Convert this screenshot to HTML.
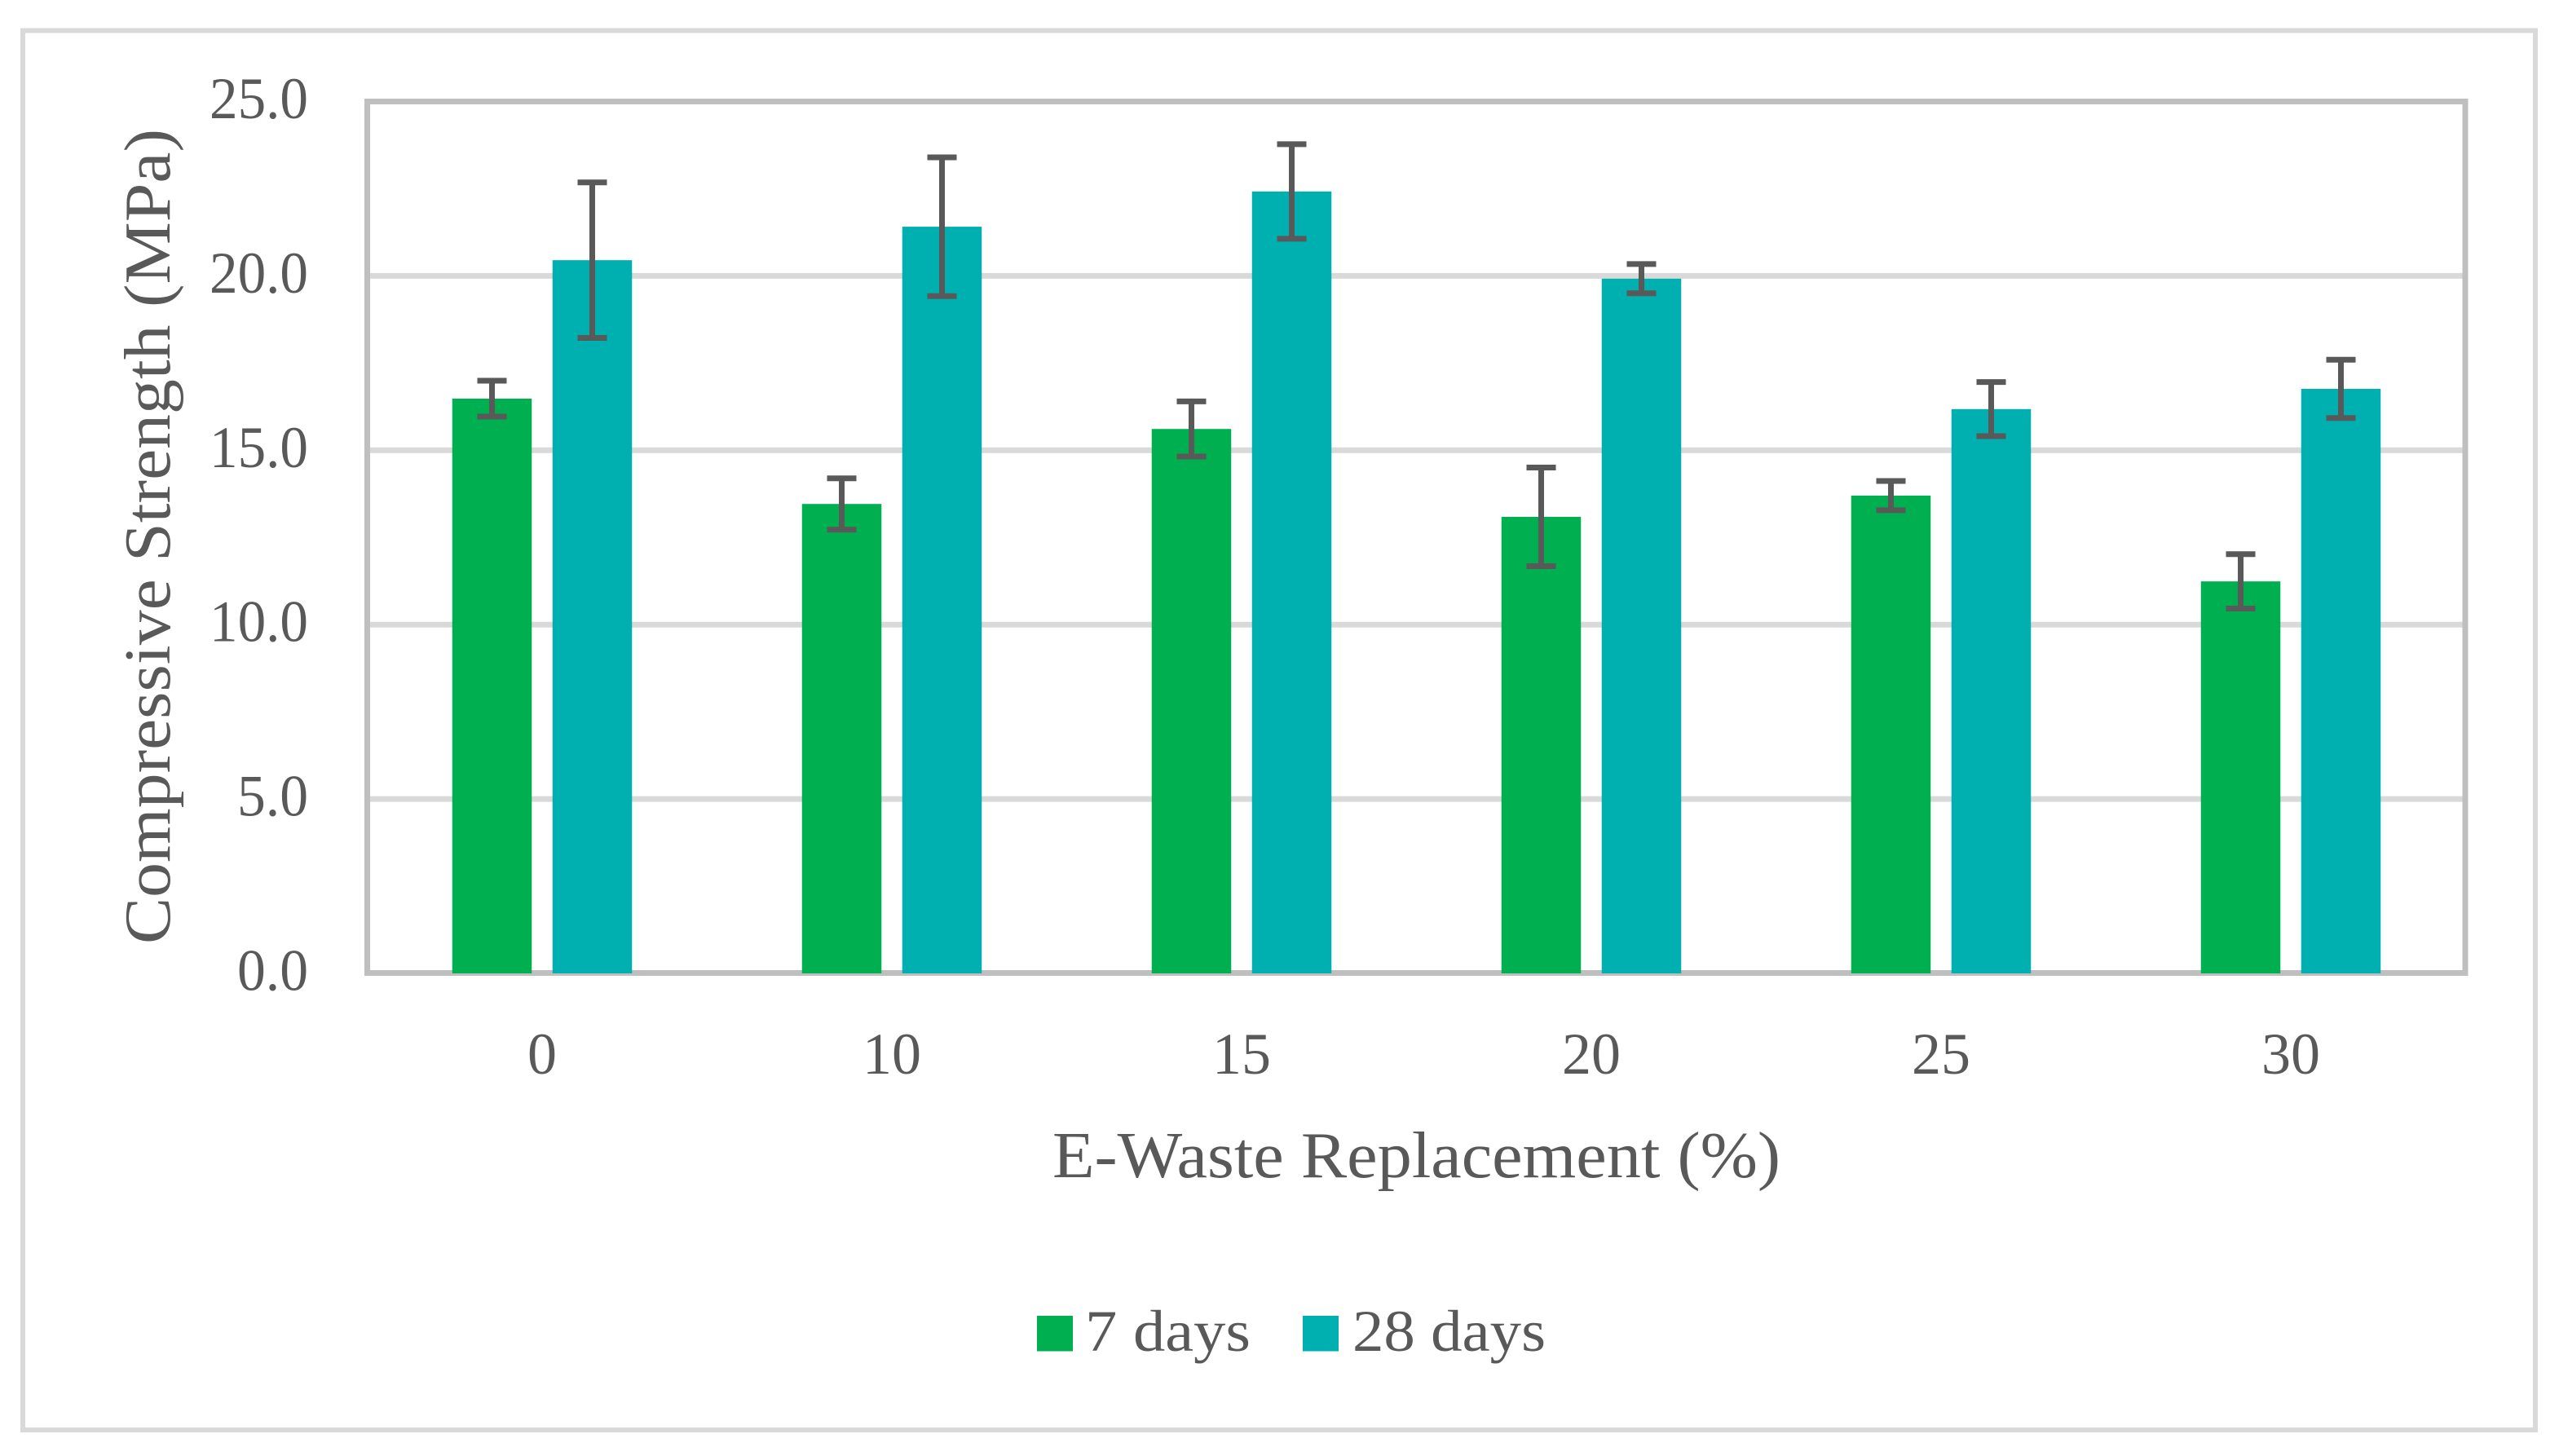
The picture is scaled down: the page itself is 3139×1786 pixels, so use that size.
<!DOCTYPE html>
<html lang="en">
<head>
<meta charset="utf-8">
<title>Compressive Strength vs E-Waste Replacement</title>
<style>
html,body{margin:0;padding:0;background:#fff;}
svg{display:block;}
text{font-family:"Liberation Serif",serif;fill:#595959;}
</style>
</head>
<body>
<svg id="chart" xmlns="http://www.w3.org/2000/svg" width="3139" height="1786" viewBox="0 0 3139 1786">
  <rect x="0" y="0" width="3139" height="1786" fill="#ffffff"/>
  <rect x="28" y="37.5" width="3082" height="1716.5" fill="#ffffff" stroke="#d9d9d9" stroke-width="6"/>
  <g id="grid"></g>
  <rect x="450.5" y="124.5" width="2573.5" height="1069" fill="none" stroke="#bfbfbf" stroke-width="7"/>
  <g id="bars"></g>
  <g id="errors"></g>
  <g id="yticks"></g>
  <g id="xticks"></g>
  <text transform="translate(208,1158) rotate(-90)" font-size="80" textLength="1000" lengthAdjust="spacingAndGlyphs">Compressive Strength (MPa)</text>
  <text x="1291" y="1444" font-size="80" textLength="893" lengthAdjust="spacingAndGlyphs">E-Waste Replacement (%)</text>
  <g>
    <rect x="1272" y="1614" width="44" height="43.5" fill="#00b050"/>
    <text x="1331" y="1657" font-size="72" textLength="203" lengthAdjust="spacingAndGlyphs">7 days</text>
    <rect x="1598" y="1614" width="44" height="43.5" fill="#00b0b0"/>
    <text x="1659" y="1657" font-size="72" textLength="237" lengthAdjust="spacingAndGlyphs">28 days</text>
  </g>
</svg>
<script>
var categories = ["0", "10", "15", "20", "25", "30"];
var strength7 = [16.48, 13.46, 15.61, 13.09, 13.70, 11.24];
var strength28 = [20.45, 21.41, 22.42, 19.92, 16.18, 16.76];
var error7 = [0.515, 0.735, 0.79, 1.415, 0.42, 0.78];
var error28 = [2.23, 1.99, 1.355, 0.42, 0.775, 0.835];
var yTicks = [0, 5, 10, 15, 20, 25];

var NS = "http://www.w3.org/2000/svg";
var plotLeft = 450.5, plotRight = 3024.5, plotBottom = 1194, plotTop = 124.5, yMax = 25;
var barWidth = 97.5, barOffset = 61.5, capWidth = 36, errStroke = 7;

function yScale(v) { return plotBottom - (v / yMax) * (plotBottom - plotTop); }
function xScale(i) { return plotLeft + (i + 0.5) * (plotRight - plotLeft) / categories.length; }
function make(tag, attrs, parent) {
  var el = document.createElementNS(NS, tag);
  for (var k in attrs) { el.setAttribute(k, attrs[k]); }
  parent.appendChild(el);
  return el;
}

var gridG = document.getElementById("grid");
var yTickG = document.getElementById("yticks");
yTicks.forEach(function (t) {
  if (t !== 0 && t !== yMax) {
    var line = make("line", { x1: plotLeft, x2: plotRight, y1: yScale(t), y2: yScale(t), stroke: "#d9d9d9", "stroke-width": 7 }, gridG);
    
    
  }
  var text = t.toFixed(1);
  var label = make("text", { x: 378, y: yScale(t) + 20.5, "font-size": 72, "text-anchor": "end", textLength: text.length === 4 ? 121 : 87, lengthAdjust: "spacingAndGlyphs" }, yTickG);
  label.textContent = text;
  
  
});

var barG = document.getElementById("bars");
var errG = document.getElementById("errors");
function drawSeries(values, errors, offset, color, key) {
  values.forEach(function (v, i) {
    var cx = xScale(i) + offset;
    var bar = make("rect", { x: cx - barWidth / 2, y: yScale(v), width: barWidth, height: plotBottom - yScale(v), fill: color }, barG);
    
    

    var hi = yScale(v + errors[i]), lo = yScale(v - errors[i]);
    var path = make("path", {
      d: "M" + (cx - capWidth / 2) + " " + hi + "H" + (cx + capWidth / 2) +
         "M" + cx + " " + hi + "V" + lo +
         "M" + (cx - capWidth / 2) + " " + lo + "H" + (cx + capWidth / 2),
      fill: "none", stroke: "#595959", "stroke-width": errStroke
    }, errG);
    
    
  });
}
drawSeries(strength7, error7, -barOffset, "#00b050", "7-days");
drawSeries(strength28, error28, barOffset, "#00b0b0", "28-days");

var xTickG = document.getElementById("xticks");
categories.forEach(function (c, i) {
  var label = make("text", { x: xScale(i), y: 1317, "font-size": 72, "text-anchor": "middle" }, xTickG);
  label.textContent = c;
  
  
});
</script>
</body>
</html>
